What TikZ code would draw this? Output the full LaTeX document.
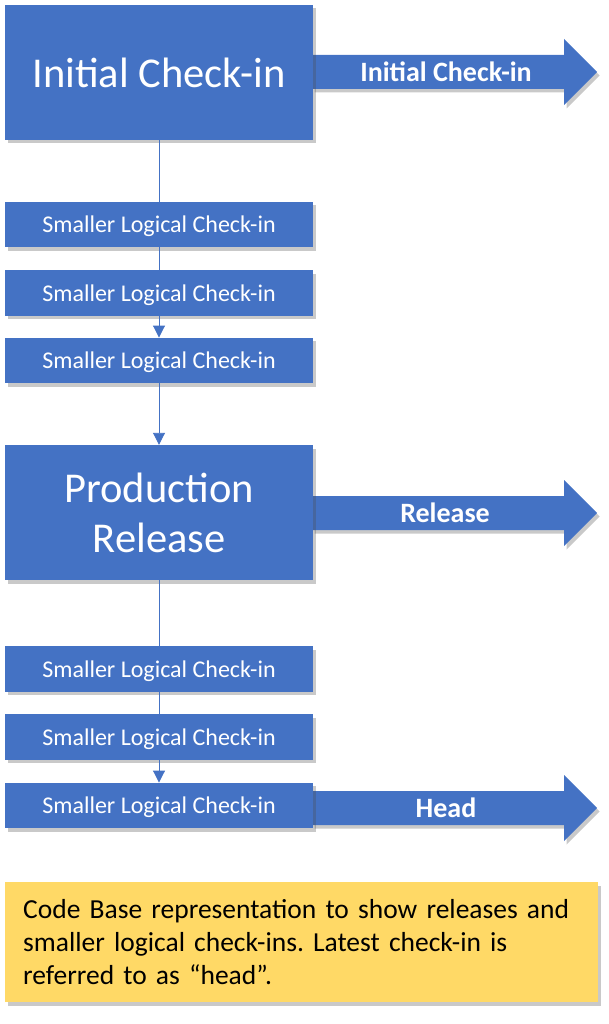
\documentclass[tikz,border=0pt]{standalone}
\usepackage{fontspec}
\setmainfont{Carlito}
\usetikzlibrary{shadows,arrows.meta}
\definecolor{obl}{HTML}{4472C4}
\definecolor{oyl}{HTML}{FFD966}
\tikzset{
  shad/.style={drop shadow={shadow xshift=2.5pt, shadow yshift=-3.5pt, opacity=0.3, fill=black!70}},
  bigbox/.style={rectangle, fill=obl, shad, minimum width=308pt, minimum height=135pt, inner sep=0pt, text=white, font=\fontsize{42.5}{50}\selectfont, align=center},
  smallbox/.style={rectangle, fill=obl, shad, minimum width=308pt, minimum height=45.5pt, inner sep=0pt, text depth=0pt, text=white, font=\fontsize{24}{28}\selectfont},
  bigarrow/.style={fill=obl, shad},
  arrowtext/.style={text=white, text depth=0pt, font=\fontsize{28}{32}\selectfont\bfseries},
  conn/.style={draw=obl, line width=0.9pt},
  connarr/.style={conn, -{Triangle[width=12pt,length=12pt]}},
  notebox/.style={rectangle, fill=oyl, shad, minimum width=593pt, minimum height=120pt, inner xsep=18pt, inner ysep=0pt, text width=557pt, align=left, font=\fontsize{27.5}{33}\selectfont\frenchspacing, anchor=north west}
}
\begin{document}
\begin{tikzpicture}[x=1pt,y=-1pt]
\useasboundingbox (0,0) rectangle (609,1024);
% arrows
\path[bigarrow] (312,55) -- (564,55) -- (564,39) -- (597,72) -- (564,105) -- (564,89) -- (312,89) -- cycle;
\path[bigarrow] (312,496) -- (564,496) -- (564,480) -- (597,513) -- (564,546) -- (564,530) -- (312,530) -- cycle;
\path[bigarrow] (312,791) -- (564,791) -- (564,775) -- (597,808) -- (564,841) -- (564,825) -- (312,825) -- cycle;
\node[arrowtext] (a1) at (446,72) {Initial Check-in};
\node[arrowtext] (a2) at (445,513) {Release};
\node[arrowtext] (a3) at (446,808) {Head};
% boxes
\node[bigbox] (init) at (159,72.5) {Initial Check-in};
\node[smallbox] (s1) at (159,224.5) {Smaller Logical Check-in};
\node[smallbox] (s2) at (159,293) {Smaller Logical Check-in};
\node[smallbox] (s3) at (159,360.5) {Smaller Logical Check-in};
\node[bigbox] (prod) at (159,512.5) {Production\\Release};
\node[smallbox] (s4) at (159,669) {Smaller Logical Check-in};
\node[smallbox] (s5) at (159,737) {Smaller Logical Check-in};
\node[smallbox] (s6) at (159,805.5) {Smaller Logical Check-in};
% connectors
\draw[conn] (init.south) -- (s1.north);
\draw[conn] (s1.south) -- (s2.north);
\draw[connarr] (s2.south) -- (s3.north);
\draw[connarr] (s3.south) -- (prod.north);
\draw[conn] (prod.south) -- (s4.north);
\draw[conn] (s4.south) -- (s5.north);
\draw[connarr] (s5.south) -- (s6.north);
% note
\node[notebox] (note) at (5,882) {Code Base representation to show releases and\\smaller logical check-ins. Latest check-in is\\referred to as “head”.};
\end{tikzpicture}
\end{document}
